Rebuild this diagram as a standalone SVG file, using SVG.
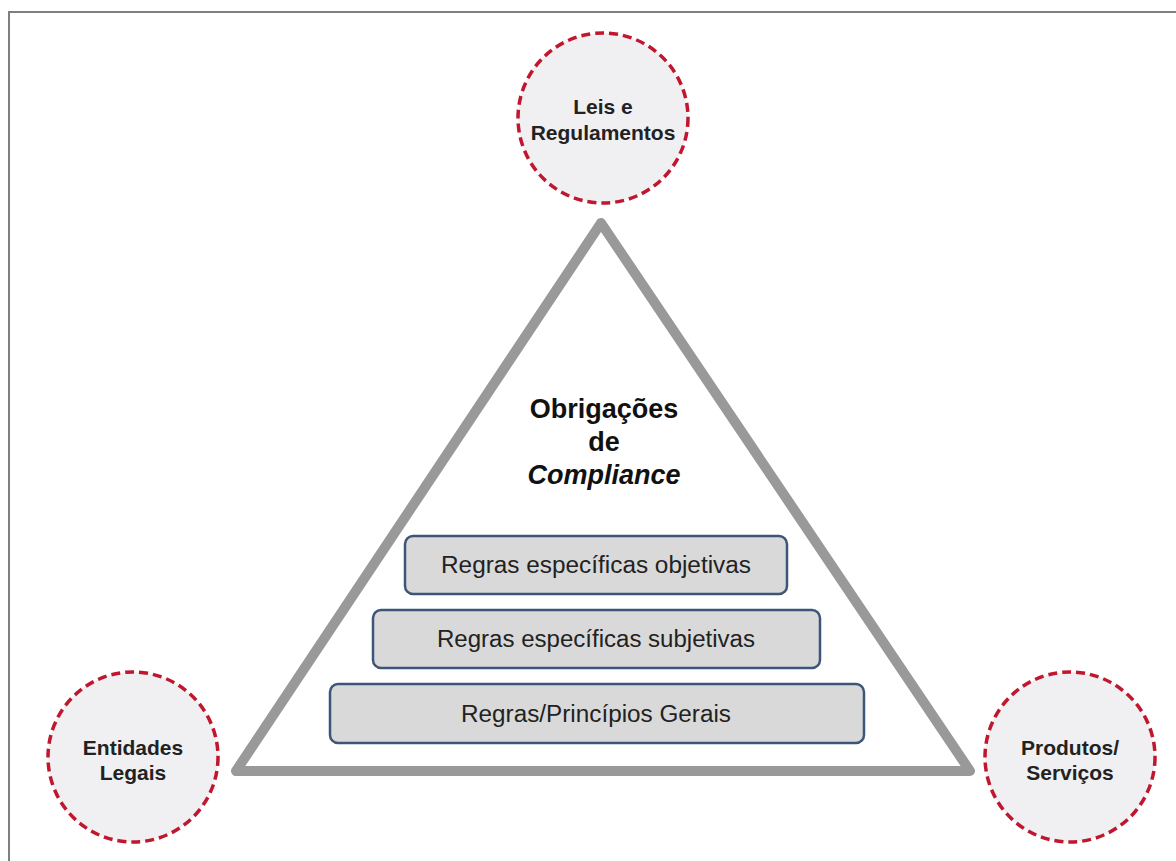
<svg xmlns="http://www.w3.org/2000/svg" width="1176" height="861" viewBox="0 0 1176 861">
<style>
.frame{fill:none;stroke:#7f7f7f;stroke-width:2}
.tri{fill:none;stroke:#999999;stroke-width:10;stroke-linejoin:round}
.circ{fill:#f0f0f2;stroke:#c0172f;stroke-width:3.5;stroke-dasharray:9 5}
.box{fill:#d9d9d9;stroke:#3d5678;stroke-width:2.5}
.ct{font-family:"Liberation Sans",Arial,sans-serif;font-size:21px;font-weight:bold;fill:#222;text-anchor:middle}
.bt{font-family:"Liberation Sans",Arial,sans-serif;font-size:23px;fill:#222;text-anchor:middle}
.tt{font-family:"Liberation Sans",Arial,sans-serif;font-size:27px;font-weight:bold;fill:#111;text-anchor:middle}
</style>
<rect width="1176" height="861" fill="#ffffff"/>
<path class="frame" d="M9,870 V12 H1180"/>
<g id="connectors">
<polygon id="triangle" class="tri" points="601,223 236,771 970,771"/>
</g>
<g id="title">
<text class="tt" x="604" y="418">Obrigações</text>
<text class="tt" x="604" y="451">de</text>
<text class="tt" x="604" y="484" font-style="italic">Compliance</text>
</g>
<g id="leis">
<circle class="circ" cx="603" cy="118" r="85"/>
<text class="ct" x="603" y="114">Leis e</text>
<text class="ct" x="603" y="140">Regulamentos</text>
</g>
<g id="entidades">
<circle class="circ" cx="133" cy="757" r="85"/>
<text class="ct" x="133" y="755">Entidades</text>
<text class="ct" x="133" y="780">Legais</text>
</g>
<g id="produtos">
<circle class="circ" cx="1070" cy="757" r="85"/>
<text class="ct" x="1070" y="755">Produtos/</text>
<text class="ct" x="1070" y="780">Serviços</text>
</g>
<g id="box1">
<rect class="box" x="405" y="536" width="382" height="58" rx="8"/>
<text class="bt" x="596" y="573" textLength="310" lengthAdjust="spacingAndGlyphs">Regras específicas objetivas</text>
</g>
<g id="box2">
<rect class="box" x="373" y="610" width="447" height="58" rx="8"/>
<text class="bt" x="596" y="647" textLength="318" lengthAdjust="spacingAndGlyphs">Regras específicas subjetivas</text>
</g>
<g id="box3">
<rect class="box" x="330" y="684" width="534" height="59" rx="8"/>
<text class="bt" x="596" y="722" textLength="270" lengthAdjust="spacingAndGlyphs">Regras/Princípios Gerais</text>
</g>
</svg>
